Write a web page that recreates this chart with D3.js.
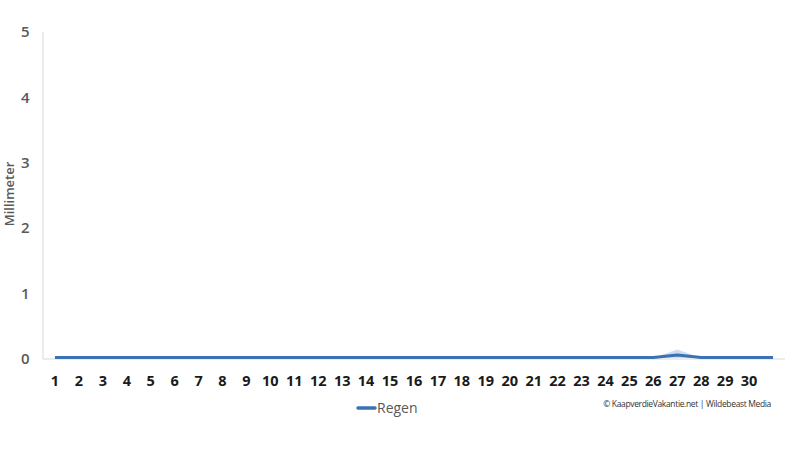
<!DOCTYPE html>
<html><head><meta charset="utf-8">
<script src="https://cdn.jsdelivr.net/npm/d3@7"></script>
<style>body{margin:0;background:#fff}svg{display:block}</style>
</head><body>
<svg id="c" width="800" height="450"></svg>
<script>
const days = d3.range(1, 32);
const dayLabels = days.map(d => d <= 30 ? String(d) : "");
const regen = [0,0,0,0,0,0,0,0,0,0,0,0,0,0,0,0,0,0,0,0,0,0,0,0,0,0,0.04,0,0,0,0];
const regenShade = [0,0,0,0,0,0,0,0,0,0,0,0,0,0,0,0,0,0,0,0,0,0,0,0,0,0,0.13,0,0,0,0];
const yTicks = [0,1,2,3,4,5];

const svg = d3.select("#c");
const x = d3.scaleBand().domain(days).range([43, 785]);
const y = d3.scaleLinear().domain([0, 5]).range([359, 32]);
const cx = d => x(d) + x.bandwidth() / 2;

svg.append("line").attr("x1", 43).attr("x2", 43).attr("y1", 32).attr("y2", 359)
  .attr("stroke", "#d9d9d9").attr("stroke-width", 1);
svg.append("line").attr("x1", 43).attr("x2", 785).attr("y1", y(0)).attr("y2", y(0))
  .attr("stroke", "#d9d9d9").attr("stroke-width", 1);

svg.append("g").selectAll("text").data(yTicks).join("text")
  .attr("x", 29.5).attr("y", d => y(d)).attr("dy", "0.35em")
  .attr("text-anchor", "end")
  .attr("font-family", "Open Sans, sans-serif").attr("font-weight", 600)
  .attr("font-size", 15).attr("fill", "#595959").text(d => d);

svg.append("text").attr("transform", "translate(14,194) rotate(-90)")
  .attr("text-anchor", "middle")
  .attr("font-family", "Open Sans, sans-serif").attr("font-weight", 600)
  .attr("font-size", 13).attr("fill", "#595959").text("Millimeter");

svg.append("g").selectAll("text").data(days).join("text")
  .attr("x", d => cx(d)).attr("y", 381).attr("dy", "0.35em")
  .attr("text-anchor", "middle")
  .attr("font-family", "Open Sans, sans-serif").attr("font-weight", 700)
  .attr("font-size", 14.5).attr("fill", "#1a1a1a").text((d, i) => dayLabels[i]);

const area = d3.area().x((d, i) => cx(days[i])).y0(y(0) - 1).y1(d => y(d) - 1);
svg.append("path").datum(regenShade).attr("d", area)
  .attr("fill", "#c6daef").attr("opacity", 0.9);

const line = d3.line().x((d, i) => cx(days[i])).y(d => y(d) - 1.5);
svg.append("path").datum(regen).attr("d", line)
  .attr("fill", "none").attr("stroke", "#3a72b3").attr("stroke-width", 3)
  .attr("stroke-linejoin", "round");

svg.append("line").attr("x1", 358).attr("x2", 375).attr("y1", 408).attr("y2", 408)
  .attr("stroke", "#3a72b3").attr("stroke-width", 3.5).attr("stroke-linecap", "round");
svg.append("text").attr("x", 377).attr("y", 408).attr("dy", "0.35em")
  .attr("font-family", "Open Sans, sans-serif").attr("font-size", 14)
  .attr("fill", "#595959").text("Regen");

svg.append("text").attr("x", 771).attr("y", 404).attr("dy", "0.35em")
  .attr("text-anchor", "end")
  .attr("font-family", "Open Sans, sans-serif").attr("font-size", 8.5)
  .attr("fill", "#333").attr("letter-spacing", "-0.35")
  .text("© KaapverdieVakantie.net | Wildebeast Media");
</script>
</body></html>
